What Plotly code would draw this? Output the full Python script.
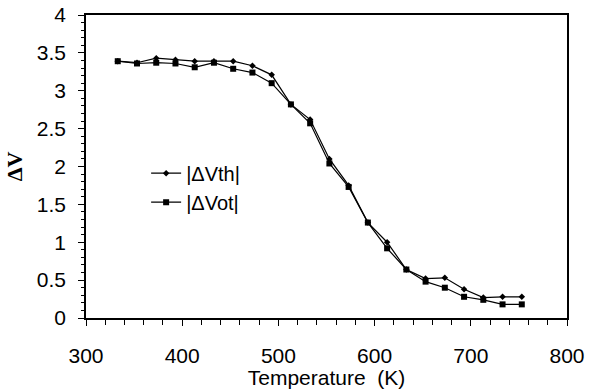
import plotly.graph_objects as go

temperature = [333, 353, 373, 393, 413, 433, 453, 473, 493, 513, 533, 553, 573, 593, 613, 633, 653, 673, 693, 713, 733, 753]
dvth = [3.39, 3.37, 3.43, 3.41, 3.39, 3.39, 3.39, 3.33, 3.21, 2.82, 2.62, 2.10, 1.75, 1.26, 1.00, 0.64, 0.52, 0.53, 0.38, 0.27, 0.28, 0.28]
dvot = [3.39, 3.36, 3.37, 3.36, 3.31, 3.37, 3.29, 3.24, 3.10, 2.82, 2.57, 2.04, 1.73, 1.26, 0.92, 0.64, 0.48, 0.40, 0.28, 0.24, 0.18, 0.18]

font = "Arial, Liberation Sans, sans-serif"

fig = go.Figure()
fig.add_trace(go.Scatter(x=temperature, y=dvth, mode="lines+markers", name="|ΔVth|",
                         line=dict(color="black", width=1.2),
                         marker=dict(symbol="diamond", size=5, color="black")))
fig.add_trace(go.Scatter(x=temperature, y=dvot, mode="lines+markers", name="|ΔVot|",
                         line=dict(color="black", width=1.2),
                         marker=dict(symbol="square", size=6, color="black")))

fig.update_layout(
    width=592, height=389,
    margin=dict(l=86, r=25, t=15, b=71, autoexpand=False),
    paper_bgcolor="white", plot_bgcolor="white",
    font=dict(family=font, size=21, color="black"),
    showlegend=True,
    legend=dict(x=0.125, y=0.43, xanchor="left", yanchor="middle",
                bgcolor="rgba(0,0,0,0)", font=dict(size=20, family=font),
                tracegroupgap=0, itemwidth=30),
)
fig.update_xaxes(range=[300, 800], dtick=100, tick0=300, automargin=False,
                 showline=True, linecolor="black", linewidth=1.5, mirror=True,
                 ticks="outside", ticklen=6, tickcolor="black", ticklabelstandoff=12,
                 showgrid=False, zeroline=False,
                 minor=dict(dtick=20, ticks="outside", ticklen=5, tickcolor="black", showgrid=False),
                 title=dict(text="Temperature  (K)", font=dict(size=21, family=font), standoff=2))
fig.update_yaxes(range=[0, 4], dtick=0.5, tick0=0, automargin=False,
                 showline=True, linecolor="black", linewidth=1.5, mirror=True,
                 ticks="outside", ticklen=6, tickcolor="black", ticklabelstandoff=8,
                 showgrid=False, zeroline=False,
                 minor=dict(dtick=0.1, ticks="outside", ticklen=3, tickcolor="black", showgrid=False),
                 title=dict(text="<b>ΔV</b>", font=dict(size=22, family="Liberation Serif, Times New Roman, serif"), standoff=8))

fig.write_html("out.html", config={"displayModeBar": False},
               post_script="document.body.style.margin='0';")
